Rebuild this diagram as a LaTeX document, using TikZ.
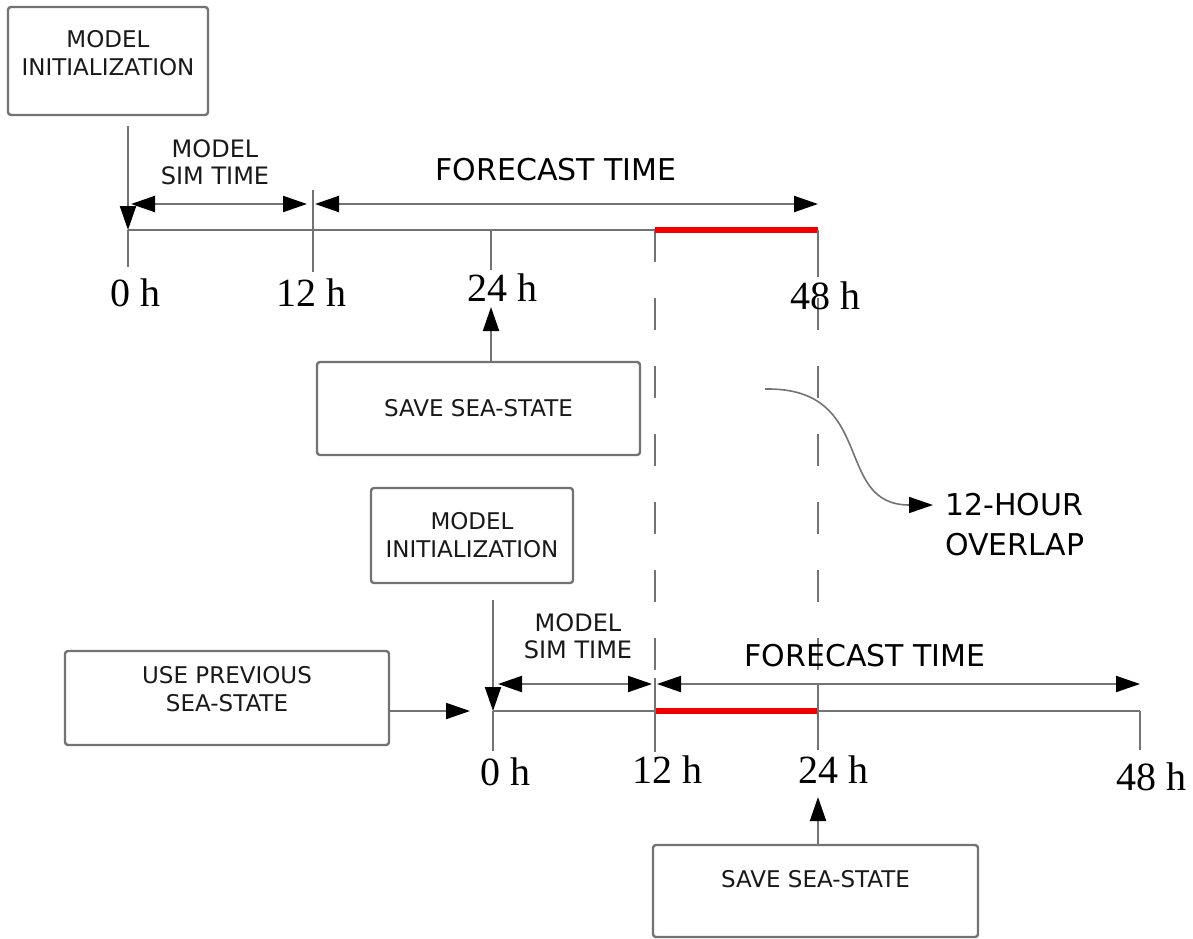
\documentclass[tikz,border=0pt]{standalone}
\usepackage{fontspec}
\setmainfont{Liberation Serif}
\newfontfamily\boxfont{DejaVu Sans}
\usetikzlibrary{arrows.meta}
\definecolor{linegray}{gray}{0.45}
\definecolor{boxgray}{gray}{0.45}
\definecolor{ovred}{RGB}{240,0,0}
\newcommand\liftbox[2]{\raisebox{#1}[\height][\depth]{\begin{tabular}{@{}c@{}}#2\end{tabular}}}
\begin{document}
\begin{tikzpicture}[x=0.5pt,y=-0.5pt,
  box/.style={draw=boxgray,line width=1.2pt,rounded corners=1.5pt,font=\boxfont\fontsize{11.5}{14}\selectfont,align=center,inner sep=0pt,text=black!90},
  lbl/.style={font=\boxfont\fontsize{12}{13.5}\selectfont,align=center,text=black!90},
  big/.style={font=\boxfont\fontsize{15}{20}\selectfont,align=left,text=black},
  hr/.style={font=\fontsize{20}{24}\selectfont,text=black},
  axis/.style={draw=linegray,line width=1pt},
  tip/.style={-{Triangle[length=12pt,width=8pt,color=black]}},
  dbl/.style={{Triangle[length=12pt,width=8pt,color=black]}-{Triangle[length=12pt,width=8pt,color=black]}},
  ov/.style={draw=ovred,line width=3.3pt},
  dsh/.style={draw=linegray,line width=1pt,dash pattern=on 16pt off 18pt},
  curvy/.style={draw=linegray,line width=0.8pt}
]
\useasboundingbox (0,0) rectangle (1193,938);

% ---------- boxes ----------
\node[box,minimum width=100pt,minimum height=54pt] (initT) at (108,61) {\liftbox{2.5pt}{MODEL\\INITIALIZATION}};
\node[box,minimum width=161.5pt,minimum height=46.5pt] (saveT) at (478.5,408.5) {SAVE SEA-STATE};
\node[box,minimum width=101pt,minimum height=47.5pt] (initB) at (472,535.5) {MODEL\\INITIALIZATION};
\node[box,minimum width=162pt,minimum height=47pt] (useprev) at (227,698) {\liftbox{3pt}{USE PREVIOUS\\SEA-STATE}};
\node[box,minimum width=162.5pt,minimum height=46pt] (saveB) at (815.5,891) {\liftbox{4.5pt}{SAVE SEA-STATE}};

% ---------- top timeline ----------
\coordinate (t0) at (128,230);
\coordinate (t12) at (313,230);
\coordinate (t24) at (491,230);
\coordinate (tov) at (655,230);
\coordinate (t48) at (818,230);

% ---------- bottom timeline ----------
\coordinate (b0) at (493,711);
\coordinate (b12) at (655,711);
\coordinate (b24) at (818,711);
\coordinate (b48) at (1140,711);

% dashed guide lines
\draw[dsh] (tov) -- (b12);
\draw[dsh] (t48) -- (b24);

\draw[axis] (t0) -- (t48);
\draw[ov] (tov) -- (t48);
\draw[axis] (t0) -- ++(0,37);
\draw[axis] (t12) ++(0,-40) -- ++(0,82);
\draw[axis] (t24) -- ++(0,40);
\draw[axis] (t48) -- ++(0,47);

\coordinate (initTa) at (128,126);
\draw[axis,tip] (initTa) -- (t0);

\coordinate (simT1) at (131,204);
\coordinate (simT2) at (307,204);
\draw[axis,dbl] (simT1) -- (simT2);
\coordinate (fcT1) at (315,204);
\coordinate (fcT2) at (818,204);
\draw[axis,dbl] (fcT1) -- (fcT2);

\node[lbl] (simTl) at (215,162) {MODEL\\SIM TIME};
\node[big] (fcTl) at (556,170) {FORECAST TIME};

\node[hr] (h0T) at (135,293) {0 h};
\node[hr] (h12T) at (311,293) {12 h};
\node[hr] (h24T) at (502,288) {24 h};
\node[hr] (h48T) at (825,296) {48 h};

\coordinate (saveTtip) at (491,307);
\draw[axis,tip] (saveT.north -| t24) -- (saveTtip);

% bottom
\draw[axis] (b0) -- (b48);
\draw[ov] (b12) -- (b24);
\draw[axis] (b0) -- ++(0,40);
\draw[axis] (b12) ++(0,-33) -- ++(0,74);
\draw[axis] (b24) ++(0,-27) -- ++(0,66);
\draw[axis] (b48) -- ++(0,39);

\coordinate (initBa) at (493,600);
\draw[axis,tip] (initBa) -- (b0);

\coordinate (simB1) at (498,684);
\coordinate (simB2) at (652,684);
\draw[axis,dbl] (simB1) -- (simB2);
\coordinate (fcB1) at (657,684);
\coordinate (fcB2) at (1140,684);
\draw[axis,dbl] (fcB1) -- (fcB2);

\node[lbl] (simBl) at (578,636) {MODEL\\SIM TIME};
\node[big] (fcBl) at (865,656) {FORECAST TIME};

\node[hr] (h0B) at (505,772) {0 h};
\node[hr] (h12B) at (667,770) {12 h};
\node[hr] (h24B) at (833,770) {24 h};
\node[hr] (h48B) at (1151,777) {48 h};

\coordinate (upTip) at (470,711);
\draw[axis,tip] (useprev.east |- b0) -- (upTip);

\coordinate (saveBtip) at (818,797);
\draw[axis,tip] (saveB.north -| b24) -- (saveBtip);

% overlap annotation
\node[big,anchor=west] (ovl) at (938,525) {12-HOUR\\OVERLAP};
\coordinate (ovS) at (765,389);
\coordinate (ovE) at (933,505);
\draw[curvy,tip] (ovS) .. controls (878,387) and (832,505) .. (ovE);
\end{tikzpicture}
\end{document}
